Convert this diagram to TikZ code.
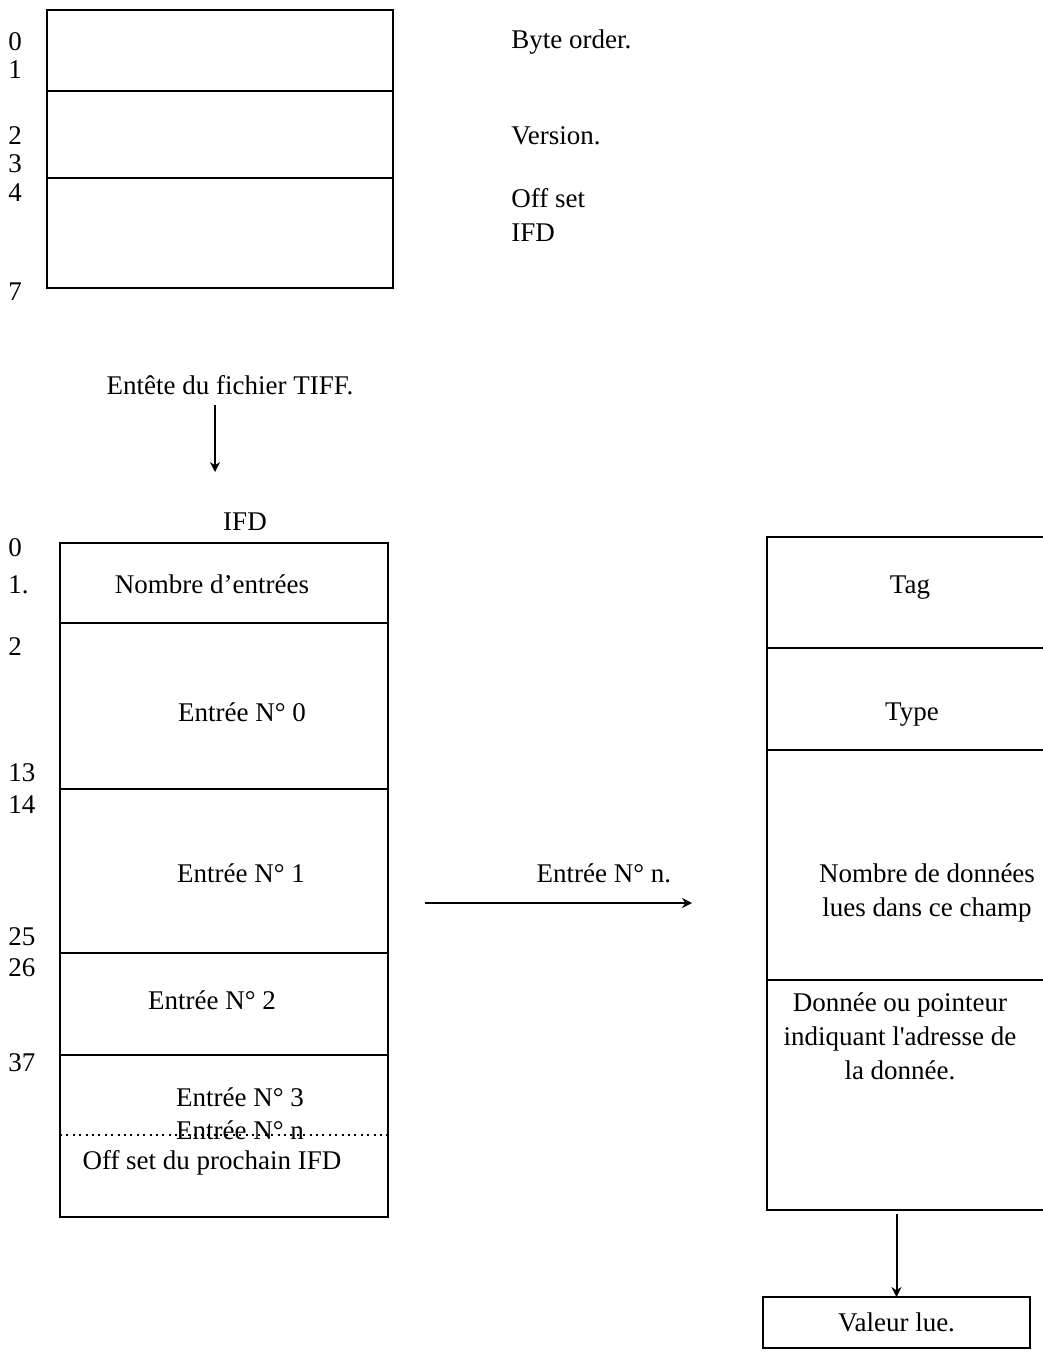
\documentclass[tikz,border=0pt]{standalone}
\usepackage{fontspec}
\setmainfont{Liberation Serif}
\usetikzlibrary{arrows.meta,positioning}

\begin{document}
\begin{tikzpicture}[x=0.5pt, y=-0.5pt, node distance=0pt, font=\fontsize{13.5}{17}\selectfont]
    % Define styles
    \tikzstyle{cell} = [rectangle, draw=black, line width=1.4pt, inner sep=0pt, outer sep=0pt]
    \tikzstyle{txt} = [inner sep=1pt, align=center]
    \tikzstyle{num} = [anchor=west, inner sep=0pt]
    \tikzstyle{arrow} = [line width=1pt,->,>={Stealth[length=5pt,width=5pt]}]
    \useasboundingbox (0,0) rectangle (1043,1355);

    % Header
    \node [cell, minimum width=173pt, minimum height=40.5pt] (byteorder) at (220,50.5) {};
    \node [cell, minimum width=173pt, minimum height=43.5pt, below=of byteorder] (version) {};
    \node [cell, minimum width=173pt, minimum height=55pt, below=of version] (offset) {};
    \node [num] (h0) at (8,42) {0};
    \node [num] (h1) at (8,70) {1};
    \node [num] (h2) at (8,136) {2};
    \node [num] (h3) at (8,164) {3};
    \node [num] (h4) at (8,193) {4};
    \node [num] (h7) at (8,292) {7};
    \node [num] (tbyte) at (511,42) {Byte order.};
    \node [num] (tversion) at (511,136) {Version.};
    \node [num, align=left] (toffset) at (511,215) {Off set\\IFD};
    \node [txt] (entete) at (230,385) {Entête du fichier TIFF.};
    \coordinate (ifdin) at (215,472);

    % IFD
    \node [txt] (ifdtitle) at (245,522) {IFD};
    \node [cell, minimum width=164pt, minimum height=40pt] (nbent) at (224,583) {};
    \node [cell, minimum width=164pt, minimum height=83pt, below=of nbent] (ent0) {};
    \node [cell, minimum width=164pt, minimum height=82pt, below=of ent0] (ent1) {};
    \node [cell, minimum width=164pt, minimum height=51pt, below=of ent1] (ent2) {};
    \node [cell, minimum width=164pt, minimum height=81pt, below=of ent2] (ent3) {};
    \coordinate (dotl) at (0,1135);
    \draw [line width=1pt, dash pattern=on 1pt off 2.2pt] (ent3.west |- dotl) -- (ent3.east |- dotl);
    \node [txt] (tnbent) at (212,584) {Nombre d’entrées};
    \node [txt] (tent0) at (242,712) {Entrée N° 0};
    \node [txt] (tent1) at (241,873) {Entrée N° 1};
    \node [txt] (tent2) at (212,1000) {Entrée N° 2};
    \node [txt] (tent3) at (240,1097) {Entrée N° 3};
    \node [txt] (tentn) at (240,1130) {Entrée N° n};
    \node [txt] (tnext) at (212,1163) {Off set du prochain IFD};
    \node [num] (i0) at (8,548) {0};
    \node [num] (i1) at (8,585) {1.};
    \node [num] (i2) at (8,647) {2};
    \node [num] (i13) at (8,773) {13};
    \node [num] (i14) at (8,805) {14};
    \node [num] (i25) at (8,937) {25};
    \node [num] (i26) at (8,968) {26};
    \node [num] (i37) at (8,1063) {37};
    \coordinate (entfrom) at (425,903);
    \coordinate (entto) at (692,903);

    % Entry
    \node [cell, minimum width=141.5pt, minimum height=55.5pt] (tag) at (908.5,592.5) {};
    \node [cell, minimum width=141.5pt, minimum height=51pt, below=of tag] (type) {};
    \node [cell, minimum width=141.5pt, minimum height=115pt, below=of type] (nbdon) {};
    \node [cell, minimum width=141.5pt, minimum height=115pt, below=of nbdon] (donnee) {};
    \node [txt] (ttag) at (910,588) {Tag};
    \node [txt] (ttype) at (912,715) {Type};
    \node [txt] (tnbdon) at (927,893) {Nombre de données\\lues dans ce champ};
    \node [txt] (tdonnee) at (900,1036) {Donnée ou pointeur\\indiquant l\textquotesingle adresse de\\la donnée.};
    \node [cell, minimum width=133.5pt, minimum height=25.5pt] (valeur) at (896.5,1322.5) {Valeur lue.};

    % Arrows
    \draw [arrow, shorten <=4pt] (entete.south -| ifdin) -- (ifdin);
    \draw [arrow] (entfrom) -- node [above=6pt, pos=0.67] (tentry) {Entrée N° n.} (entto);
    \draw [arrow, shorten <=2pt] (valeur.north |- donnee.south) -- (valeur.north);
\end{tikzpicture}
\end{document}
